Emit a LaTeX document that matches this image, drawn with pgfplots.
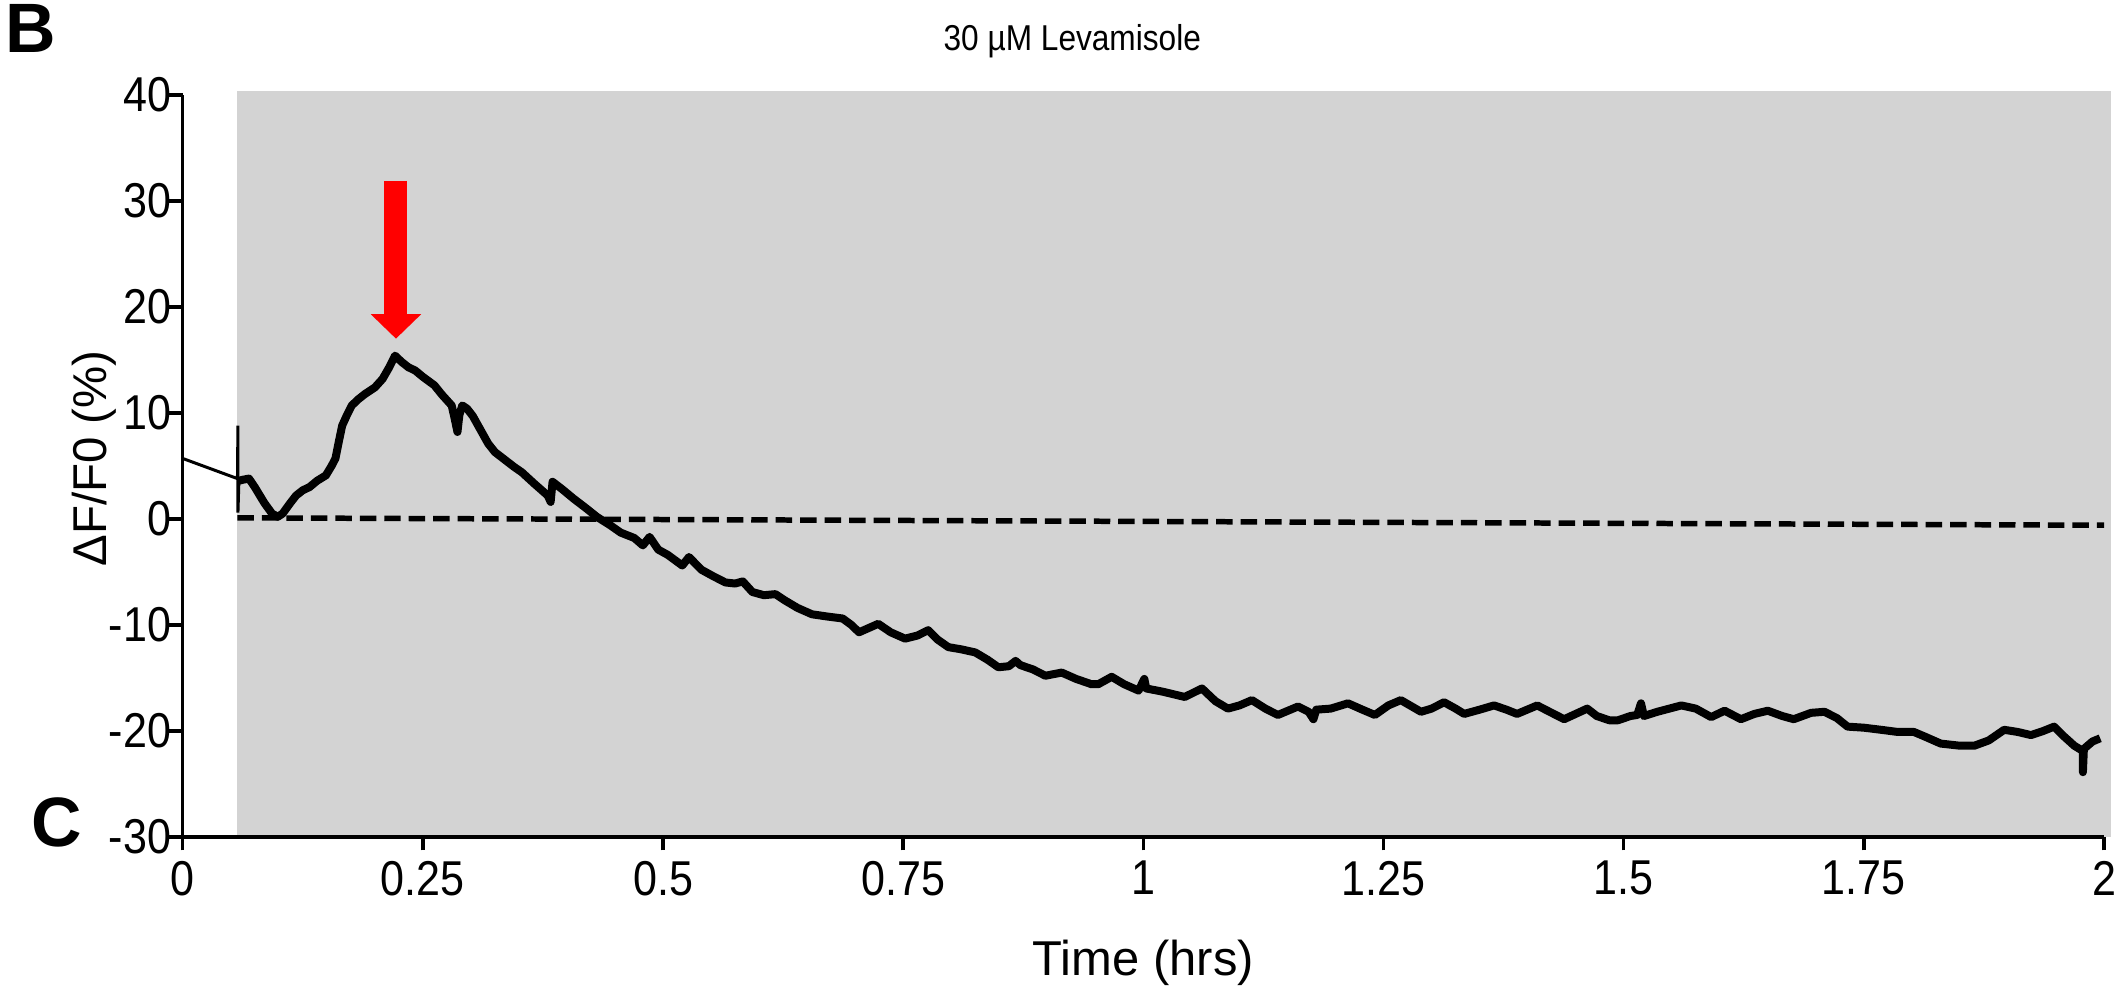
\documentclass[border=0pt]{standalone}
\usepackage{fontspec}
\setmainfont{Liberation Sans}
\newfontfamily\narrowfont[FakeStretch=0.88]{Liberation Sans}
\usepackage{pgfplots}
\pgfplotsset{compat=1.18}
\usetikzlibrary{arrows.meta}
\definecolor{shade}{RGB}{211,211,211}
\definecolor{arrred}{RGB}{255,0,0}

\begin{document}
\begin{tikzpicture}
\begin{axis}[
  name=ax,
  scale only axis, width=384.8pt, height=148.6pt,
  xmin=0, xmax=2, ymin=-30, ymax=40,
  axis lines*=left,
  axis line style={line width=0.7pt},
  clip=false,
  axis on top,
  xtick={0,0.25,0.5,0.75,1,1.25,1.5,1.75,2},
  xticklabels={0,0.25,0.5,0.75,1,1.25,1.5,1.75,2},
  ytick={-30,-20,-10,0,10,20,30,40},
  yticklabels={-30,-20,-10,0,10,20,30,40},
  tick align=outside, major tick length=2.7pt,
  tick style={line width=0.7pt, black},
  ticklabel style={font=\narrowfont\fontsize{9.8}{10}\selectfont},
  yticklabel style={inner sep=1.2pt, xshift=1.8pt},
  xticklabel style={inner sep=2pt},
  xlabel={Time (hrs)},
  ylabel={ΔF/F0 (\%)},
  xlabel style={font=\fontsize{9.8}{10}\selectfont, inner sep=0pt, at={(axis description cs:0.5,-0.1696)}, anchor=center},
  ylabel style={font=\fontsize{9.5}{10}\selectfont, inner sep=0pt, at={(axis description cs:-0.046,0.51)}, anchor=center},
  title={30 µM Levamisole},
  every axis title shift=0pt,
  title style={font=\narrowfont\fontsize{7.2}{8}\selectfont, inner sep=0pt, yshift=0pt, at={(axis description cs:0.463,1.073)}, anchor=center},
]
\addplot[draw=none, fill=shade] coordinates {(0.057,-30) (0.057,40.35) (2.007,40.35) (2.007,-30)};
\addplot[black, line width=1.1pt, dash pattern=on 3.3pt off 1.6pt] coordinates {(0.057,0.1) (2.0,-0.6)};
\addplot[black, line width=0.6pt] coordinates {(0,5.7) (0.057,3.8) (0.0575,8.8) (0.0575,0.6) (0.0585,3.6)};
\addplot[black, line width=1.6pt, line join=round] coordinates {
(0.0585,3.6) (0.063,3.7) (0.069,3.8) (0.075,3.0) (0.085,1.5) (0.093,0.5) (0.099,0.2) (0.104,0.5)
(0.112,1.5) (0.118,2.2) (0.125,2.7) (0.132,3.0) (0.140,3.6) (0.149,4.1) (0.155,5.0) (0.159,5.7)
(0.163,7.5) (0.166,8.8) (0.171,9.8) (0.176,10.7) (0.183,11.3) (0.190,11.8) (0.200,12.4) (0.208,13.2)
(0.215,14.3) (0.221,15.4) (0.228,14.8) (0.235,14.3) (0.242,14.0) (0.250,13.4) (0.262,12.6) (0.270,11.7)
(0.280,10.7) (0.283,9.5) (0.286,8.2) (0.288,9.8) (0.291,10.7) (0.296,10.4) (0.302,9.7) (0.310,8.4)
(0.318,7.1) (0.325,6.3) (0.335,5.6) (0.345,4.9) (0.353,4.4) (0.365,3.4) (0.375,2.6) (0.380,2.2)
(0.383,1.6) (0.385,3.5) (0.395,2.8) (0.407,1.9) (0.420,1.0) (0.431,0.2) (0.445,-0.6) (0.456,-1.3)
(0.470,-1.8) (0.479,-2.5) (0.486,-1.7) (0.495,-2.9) (0.505,-3.4) (0.520,-4.4) (0.527,-3.6) (0.540,-4.8)
(0.552,-5.4) (0.565,-6.0) (0.575,-6.1) (0.583,-5.9) (0.593,-6.9) (0.605,-7.2) (0.617,-7.1) (0.627,-7.7)
(0.640,-8.4) (0.655,-9.0) (0.670,-9.2) (0.687,-9.4) (0.696,-10.0) (0.704,-10.7) (0.714,-10.3) (0.724,-9.9)
(0.737,-10.7) (0.752,-11.3) (0.765,-11.0) (0.776,-10.5) (0.786,-11.4) (0.797,-12.1) (0.810,-12.3) (0.825,-12.6)
(0.838,-13.3) (0.849,-14.0) (0.860,-13.9) (0.867,-13.4) (0.872,-13.8) (0.885,-14.2) (0.898,-14.8) (0.915,-14.5)
(0.930,-15.1) (0.946,-15.6) (0.953,-15.6) (0.967,-14.9) (0.980,-15.6) (0.995,-16.2) (1.001,-15.1) (1.003,-16.0)
(1.020,-16.3) (1.043,-16.8) (1.061,-16.0) (1.075,-17.2) (1.088,-17.9) (1.100,-17.6) (1.113,-17.1) (1.127,-17.9)
(1.140,-18.5) (1.161,-17.7) (1.172,-18.2) (1.177,-18.9) (1.180,-18.0) (1.195,-17.9) (1.213,-17.4) (1.228,-18.0)
(1.241,-18.5) (1.255,-17.6) (1.268,-17.1) (1.289,-18.2) (1.300,-17.9) (1.313,-17.3) (1.325,-17.9) (1.334,-18.4)
(1.350,-18.0) (1.365,-17.6) (1.378,-18.0) (1.389,-18.4) (1.410,-17.6) (1.425,-18.3) (1.438,-18.9) (1.462,-17.9)
(1.472,-18.6) (1.485,-19.0) (1.494,-19.0) (1.507,-18.6) (1.514,-18.5) (1.518,-17.4) (1.521,-18.6) (1.535,-18.2)
(1.560,-17.6) (1.575,-17.9) (1.591,-18.7) (1.605,-18.1) (1.622,-18.9) (1.636,-18.4) (1.650,-18.1) (1.665,-18.6)
(1.677,-18.9) (1.695,-18.3) (1.709,-18.2) (1.722,-18.8) (1.733,-19.6) (1.750,-19.7) (1.768,-19.9) (1.785,-20.1)
(1.802,-20.1) (1.815,-20.6) (1.830,-21.2) (1.850,-21.4) (1.865,-21.4) (1.880,-20.9) (1.896,-19.9) (1.910,-20.1)
(1.924,-20.4) (1.937,-20.0) (1.948,-19.6) (1.958,-20.5) (1.969,-21.4) (1.978,-21.9) (1.978,-23.9) (1.979,-21.7)
(1.988,-21.0) (1.996,-20.7)
};
\addplot[arrred, line width=4.6pt, -{Triangle[width=9.8pt,length=4.9pt]}] coordinates {(0.222,31.9) (0.222,17.0)};
\node[inner sep=0pt, font=\bfseries\fontsize{14}{16}\selectfont] at (axis description cs:-0.079,1.089) {B};
\node[inner sep=0pt, font=\bfseries\fontsize{14}{16}\selectfont] at (axis description cs:-0.0655,0.019) {C};
\path (axis description cs:-0.0951,-0.2086) rectangle (axis description cs:1.0099,1.1279);
\end{axis}
\end{tikzpicture}
\end{document}
